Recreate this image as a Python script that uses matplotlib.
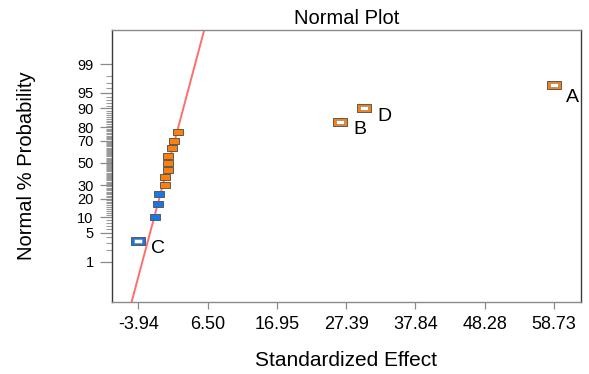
import numpy as np
import matplotlib
matplotlib.use("Agg")
import matplotlib.pyplot as plt
from matplotlib.path import Path
from statistics import NormalDist

plt.rcParams["font.family"] = ["Liberation Sans", "DejaVu Sans"]

# Standardized effects, sorted ascending (15 terms of a 2^4 design)
effects = [-3.94, -1.42, -1.02, -0.82, 0.03, 0.09, 0.50, 0.54, 0.58,
           1.10, 1.40, 2.09, 26.46, 30.08, 58.73]
term_labels = ["C", "", "", "", "", "", "", "", "", "", "", "", "B", "D", "A"]

# Reference line x = mu + sigma * z
line_mu = 0.65
line_sigma = 1.71

x_ticks = [-3.94, 6.50, 16.95, 27.39, 37.84, 48.28, 58.73]
x_tick_labels = ["-3.94", "6.50", "16.95", "27.39", "37.84", "48.28", "58.73"]
y_major_pct = [1, 5, 10, 20, 30, 50, 70, 80, 90, 95, 99]

ORANGE = "#FF8008"
BLUE = "#1677E8"
EDGE = "#5a5a5a"

nd = NormalDist()
n = len(effects)
pct = [(i + 0.5) / n for i in range(n)]          # plotting positions
zvals = [nd.inv_cdf(p) for p in pct]

fig = plt.figure(figsize=(5.89, 3.74), dpi=100)
ax = fig.add_axes([111.7 / 589, 72.3 / 374, 469 / 589, 272 / 374])

ylo, yhi = -3.268, 3.134
ax.set_xlim(-7.95, 62.75)
ax.set_ylim(ylo, yhi)

# fitted reference line
zl = np.array([ylo, yhi])
ax.plot(line_mu + line_sigma * zl, zl, color="#FF6E6E", lw=1.4, zorder=2)


def rect_marker(aspect):
    return Path([(-1, -aspect), (1, -aspect), (1, aspect), (-1, aspect), (-1, -aspect)],
                [Path.MOVETO, Path.LINETO, Path.LINETO, Path.LINETO, Path.CLOSEPOLY])


small = rect_marker(0.57)
big = rect_marker(0.58)
inner = rect_marker(0.45)

for x, z, lab in zip(effects, zvals, term_labels):
    col = ORANGE if x > 0 else BLUE
    if lab:
        ax.plot(x, z, marker=big, ms=9.6, mfc=col, mec=EDGE, mew=0.7, ls="none", zorder=4)
        ax.plot(x, z, marker=inner, ms=5.8, mfc="white", mec="#777777", mew=0.4, ls="none", zorder=5)
        off = (18, -13) if lab == "A" else (20, -8)
        ax.annotate(lab, (x, z), xytext=off, textcoords="offset pixels",
                    ha="center", va="center", fontsize=14, zorder=6)
    else:
        ax.plot(x, z, marker=small, ms=7.4, mfc=col, mec=EDGE, mew=0.7, ls="none", zorder=4)

# normal-probability y axis
ax.set_yticks([nd.inv_cdf(p / 100) for p in y_major_pct])
ax.set_yticklabels([str(p) for p in y_major_pct], fontsize=10.5)
minor_pct = [p for p in range(1, 100) if p not in y_major_pct]
ax.set_yticks([nd.inv_cdf(p / 100) for p in minor_pct], minor=True)
ax.tick_params(axis="y", which="major", length=9, width=0.9, color="#8a8a8a", pad=4)
ax.tick_params(axis="y", which="minor", length=4.5, width=0.8, color="#9a9a9a")

ax.set_xticks(x_ticks)
ax.set_xticklabels(x_tick_labels, fontsize=13)
ax.tick_params(axis="x", which="major", length=5, width=0.9, color="#8a8a8a", pad=5)

for side in ("left", "right"):
    ax.spines[side].set_color("#3a3a3a")
    ax.spines[side].set_linewidth(1.0)
for side in ("top", "bottom"):
    ax.spines[side].set_color("#8a8a8a")
    ax.spines[side].set_linewidth(1.0)

ax.set_title("Normal Plot", fontsize=14.5, pad=4)
ax.set_xlabel("Standardized Effect", fontsize=15)
ax.xaxis.label.set_va("baseline")
ax.xaxis.set_label_coords(0.5, (8 - 72.3) / 272)
ax.set_ylabel("Normal % Probability", fontsize=14.5)
ax.yaxis.label.set_va("center")
ax.yaxis.set_label_coords((26 - 111.7) / 469, 0.5)

fig.savefig("out.png", dpi=100)
